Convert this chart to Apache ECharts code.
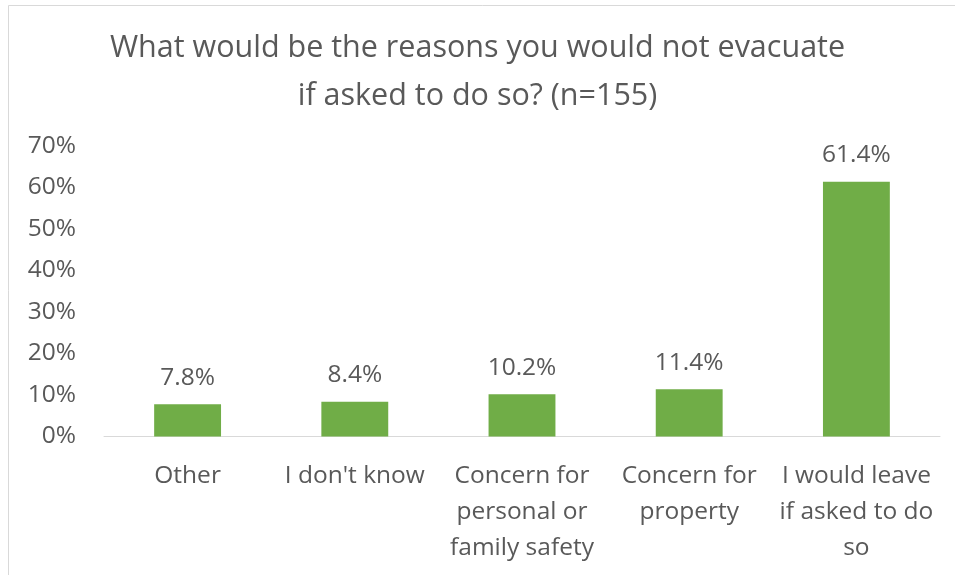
<!DOCTYPE html>
<html>
<head>
<meta charset="utf-8">
<script src="https://cdn.jsdelivr.net/npm/echarts@6/dist/echarts.min.js"></script>
<style>
html,body{margin:0;padding:0;background:#fff;}
#chart{width:955px;height:575px;}
</style>
</head>
<body>
<div id="chart"></div>
<script>
var titleText = 'What would be the reasons you would not evacuate\nif asked to do so? (n=155)';
var categories = ['Other', "I don't know", 'Concern for\npersonal or\nfamily safety', 'Concern for\nproperty', 'I would leave\nif asked to do\nso'];
var values = [7.8, 8.4, 10.2, 11.4, 61.4];
var yTicks = [0, 10, 20, 30, 40, 50, 60, 70];

var FONT = 'Open Sans';
var TXT = '#595959';
var chart = echarts.init(document.getElementById('chart'));
chart.setOption({
  animation: false,
  backgroundColor: '#fff',
  graphic: [{
    type: 'rect',
    shape: {x: 8.5, y: 5.5, width: 1000, height: 700},
    style: {fill: 'none', stroke: '#d9d9d9', lineWidth: 1},
    silent: true
  }],
  title: {
    text: titleText,
    left: 'center',
    top: 19,
    textStyle: {fontFamily: FONT, fontSize: 30.5, fontWeight: 'normal', color: TXT, lineHeight: 48}
  },
  grid: {left: 104, right: 15, top: 146, bottom: 138.5, containLabel: false},
  xAxis: {
    type: 'category',
    data: categories,
    axisLine: {lineStyle: {color: '#d9d9d9', width: 1}},
    axisTick: {show: false},
    axisLabel: {fontFamily: FONT, fontSize: 24.5, color: TXT, lineHeight: 36, margin: 22, interval: 0}
  },
  yAxis: {
    type: 'value',
    min: yTicks[0],
    max: yTicks[yTicks.length - 1],
    interval: 10,
    splitLine: {show: false},
    axisLine: {show: false},
    axisTick: {show: false},
    axisLabel: {fontFamily: FONT, fontSize: 24.5, color: TXT, margin: 28, formatter: function (v) { return v + '%'; }}
  },
  series: [{
    type: 'bar',
    data: values,
    barWidth: '40%',
    itemStyle: {color: '#70ad47'},
    label: {
      show: true,
      position: 'top',
      distance: 14,
      fontFamily: FONT,
      fontSize: 24.5,
      color: TXT,
      formatter: function (p) { return p.value.toFixed(1) + '%'; }
    }
  }]
});
</script>
</body>
</html>
